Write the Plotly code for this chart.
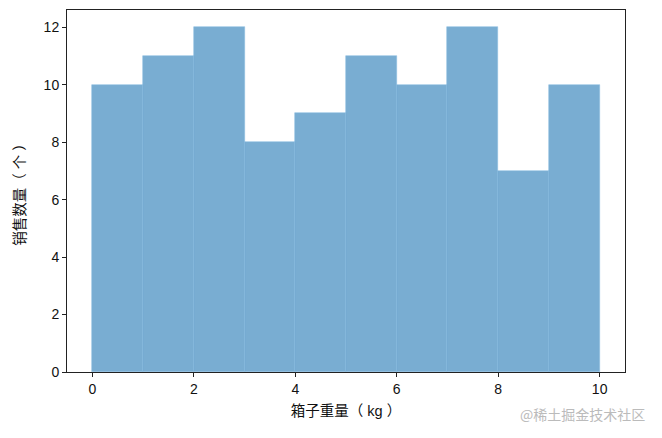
import plotly.graph_objects as go

bin_left = [0, 1, 2, 3, 4, 5, 6, 7, 8, 9]
counts = [10, 11, 12, 8, 9, 11, 10, 12, 7, 10]
x_ticks = [0, 2, 4, 6, 8, 10]
y_ticks = [0, 2, 4, 6, 8, 10, 12]

font_fam = "Liberation Sans, Arial, Noto Sans CJK SC, sans-serif"

fig = go.Figure(go.Bar(
    x=[b + 0.5 for b in bin_left],
    y=counts,
    width=1,
    marker=dict(color="rgba(31,119,180,0.6)",
                line=dict(color="rgba(140,190,225,0.9)", width=0.6)),
    hoverinfo="skip",
))

axis_common = dict(showline=True, mirror=True, linecolor="#222", linewidth=1,
                   ticks="outside", ticklen=4, tickcolor="#222", showgrid=False,
                   zeroline=False, tickfont=dict(size=14, color="#111"))

fig.update_layout(
    width=662, height=438,
    margin=dict(l=59, r=45, t=2, b=74),
    paper_bgcolor="white", plot_bgcolor="white",
    font=dict(family=font_fam, color="#111"),
    bargap=0,
    showlegend=False,
    xaxis=dict(range=[-0.5, 10.5], tickvals=x_ticks,
               title=dict(text="箱子重量（ kg ）", font=dict(size=14.5), standoff=10),
               **axis_common),
    yaxis=dict(range=[0, 12.6], tickvals=y_ticks,
               title=dict(text="销售数量（ 个 ）", font=dict(size=14.5), standoff=14),
               **axis_common),
    annotations=[dict(text="@稀土掘金技术社区", xref="paper", yref="paper",
                      x=1.04, y=-0.115, xanchor="right", yanchor="middle",
                      showarrow=False,
                      font=dict(size=14, color="#bbbbbb",
                                family="Noto Sans CJK SC, sans-serif"))],
)

fig.write_html("out.html")
